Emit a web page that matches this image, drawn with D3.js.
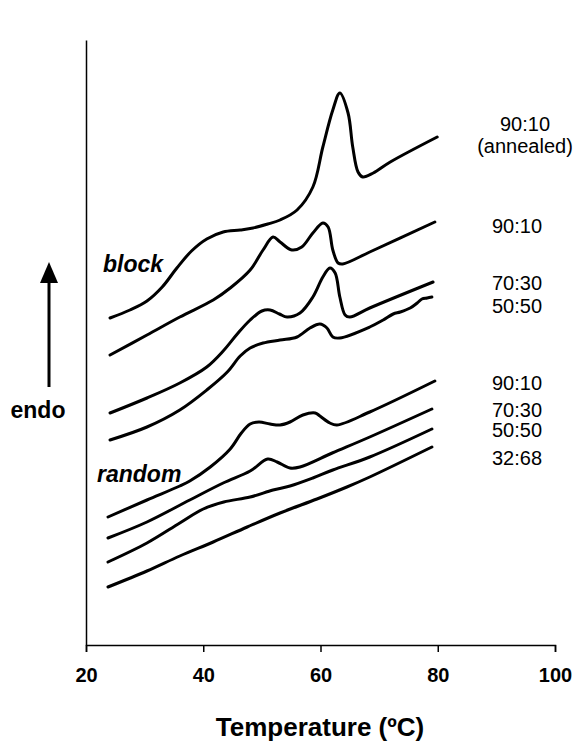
<!DOCTYPE html>
<html>
    <head>
        <title>DSC curves</title>
        <style>
            body { margin: 0; background: #fff; }
            .axis path, .axis line { fill: none; stroke: black; stroke-width: 1.5px; }
            .curve { fill: none; stroke: black; stroke-width: 3px; stroke-linejoin: round; stroke-linecap: round; }
            .lab { font-family: "Liberation Sans", Arial, sans-serif; font-size: 20px; fill: black; }
        </style>
    </head>
    <body>
        <script src="https://cdnjs.cloudflare.com/ajax/libs/d3/7.8.5/d3.min.js"></script>
        <script>

        var w = 578;
        var h = 743;

        // temperature (C) vs heat flow (arbitrary units, offset per trace)
        var xTicks = [20, 40, 60, 80, 100];

        var block9010Annealed = [[24.1,32.7],[27.5,33.5],[30.4,34.4],[33.0,35.8],[35.5,37.7],[38.0,39.4],[40.6,40.6],[43.4,41.3],
            [46.3,41.5],[48.5,41.7],[51.0,42.1],[53.1,42.5],[56.0,43.5],[58.7,45.8],[60.4,49.8],[62.1,53.5],[63.3,55.2],
            [64.7,53.2],[65.5,49.8],[66.4,47.3],[67.2,46.8],[69.0,47.2],[71.9,48.3],[79.9,50.8]];
        var block9010 = [[24.1,29.0],[30.4,31.0],[36.0,32.8],[41.7,34.5],[44.6,35.7],[48.0,37.5],[50.2,39.5],[51.9,40.8],
            [53.1,40.3],[55.1,39.5],[56.8,39.8],[58.7,41.2],[60.4,42.2],[61.3,41.8],[62.1,39.5],[63.0,38.2],[63.8,38.1],
            [68.4,39.3],[79.5,42.3]];
        var block7030 = [[24.1,23.2],[30.4,24.7],[36.0,26.2],[40.6,27.8],[43.4,29.4],[45.8,31.1],[48.0,32.5],[50.0,33.4],
            [51.4,33.5],[53.0,33.1],[54.3,32.8],[56.5,33.2],[58.7,34.8],[60.4,36.8],[61.6,37.7],[62.5,37.2],[63.3,34.8],
            [64.2,33.0],[65.0,32.8],[68.4,33.7],[79.2,36.3]];
        var block5050 = [[24.1,20.5],[30.4,21.8],[36.0,23.5],[40.6,25.5],[44.1,27.3],[46.3,28.9],[48.0,29.7],[50.2,30.2],
            [53.1,30.5],[56.0,30.8],[58.2,31.7],[59.9,32.1],[61.1,31.7],[62.1,30.8],[63.3,30.7],[68.4,31.8],[70.7,32.5],
            [72.4,33.1],[73.6,33.3],[75.3,33.7],[76.5,34.2],[77.3,34.6],[78.2,34.7],[79.0,34.8]];
        var random9010 = [[23.75,12.8],[30.4,14.5],[36.0,15.9],[37.7,16.4],[41.2,17.8],[44.6,19.6],[46.5,21.2],[48.0,22.1],
            [49.5,22.3],[51.4,22.1],[53.1,22.0],[54.8,22.3],[57.0,23.0],[59.1,23.2],[59.9,22.9],[61.6,22.2],[62.8,22.0],
            [68.4,23.3],[79.5,26.4]];
        var random7030 = [[23.75,10.7],[30.4,12.3],[37.7,14.5],[43.4,16.2],[48.0,17.4],[51.0,18.6],[52.6,18.3],[54.8,17.7],
            [56.5,17.8],[62.0,19.2],[68.4,20.8],[79.0,23.6]];
        var random5050 = [[23.75,8.3],[30.4,10.2],[36.0,12.2],[40.0,13.6],[43.5,14.3],[48.0,14.8],[51.9,15.5],[54.8,15.9],
            [58.7,16.7],[62.1,17.5],[68.4,18.8],[79.0,21.6]];
        var random3268 = [[23.75,5.8],[30.4,7.4],[36.0,8.9],[41.7,10.3],[47.5,11.8],[53.1,13.2],[59.4,14.6],[64.5,15.8],
            [68.4,16.8],[79.0,19.8]];

        var curves = [block9010Annealed, block9010, block7030, block5050, random9010, random7030, random5050, random3268];

        // right-hand labels: [text, heat-flow level of the baseline]
        var labelsTop = ["90:10", "(annealed)"];
        var labelsRest = [["90:10", 41.2], ["70:30", 35.5], ["50:50", 33.2], ["90:10", 25.5], ["70:30", 22.8], ["50:50", 20.8], ["32:68", 18.0]];

        var svg = d3.select("body").append("svg")
            .attr("width", w)
            .attr("height", h);

        var xScale = d3.scaleLinear().domain([20, 100]).range([86, 555]);
        var yScale = d3.scaleLinear().domain([0, 60.5]).range([645, 40]);

        svg.append("g")
            .attr("class", "x axis")
            .attr("transform", "translate(0,645)")
            .call(d3.axisBottom(xScale).tickValues(xTicks).tickSize(7).tickSizeOuter(7).tickPadding(16))
            .selectAll("text")
            .style("font", "bold 20px 'Liberation Sans', Arial, sans-serif")
            .attr("fill", "black");

        svg.append("g")
            .attr("class", "y axis")
            .attr("transform", "translate(86,0)")
            .call(d3.axisLeft(yScale).tickValues([]).tickSizeOuter(0));

        var line = d3.line()
            .x(function(d) { return xScale(d[0]); })
            .y(function(d) { return yScale(d[1]); })
            .curve(d3.curveCatmullRom.alpha(0.5));

        svg.append("g").selectAll("path")
            .data(curves)
            .enter()
            .append("path")
            .attr("class", "curve")
            .attr("d", line);

        // labels
        svg.selectAll("text.top")
            .data(labelsTop)
            .enter()
            .append("text")
            .attr("class", "lab")
            .attr("x", 525)
            .attr("y", function(d, i) { return 131 + i * 22; })
            .attr("text-anchor", "middle")
            .text(function(d) { return d; });

        svg.selectAll("text.rest")
            .data(labelsRest)
            .enter()
            .append("text")
            .attr("class", "lab")
            .attr("x", 517)
            .attr("y", function(d) { return yScale(d[1]); })
            .attr("text-anchor", "middle")
            .text(function(d) { return d[0]; });

        svg.append("text")
            .attr("x", 103).attr("y", 272)
            .style("font", "italic bold 23px 'Liberation Sans', Arial, sans-serif")
            .text("block");

        svg.append("text")
            .attr("x", 97).attr("y", 482)
            .style("font", "italic bold 23px 'Liberation Sans', Arial, sans-serif")
            .text("random");

        // axis title
        svg.append("text")
            .attr("x", 320).attr("y", 736)
            .attr("text-anchor", "middle")
            .style("font", "bold 26px 'Liberation Sans', Arial, sans-serif")
            .text("Temperature (\u00baC)");

        // endo arrow
        svg.append("line")
            .attr("x1", 49).attr("y1", 387)
            .attr("x2", 49).attr("y2", 280)
            .attr("stroke", "black")
            .attr("stroke-width", 3);

        svg.append("path")
            .attr("d", "M49,262 L58,283 L40,283 Z")
            .attr("fill", "black");

        svg.append("text")
            .attr("x", 38).attr("y", 418)
            .attr("text-anchor", "middle")
            .style("font", "bold 23px 'Liberation Sans', Arial, sans-serif")
            .text("endo");

        </script>
    </body>
</html>
